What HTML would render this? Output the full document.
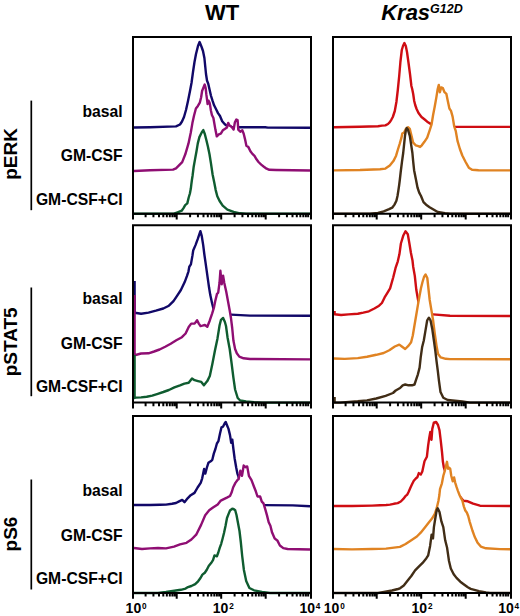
<!DOCTYPE html>
<html><head><meta charset="utf-8"><style>
html,body{margin:0;padding:0;background:#fff;}
body{width:520px;height:616px;overflow:hidden;}
svg{display:block;}
text{font-family:"Liberation Sans",sans-serif;fill:#000;}
.b{font-weight:bold;}
.bi{font-weight:bold;font-style:italic;}
.lab{font-size:15.7px;}
</style></head><body>
<svg width="520" height="616" viewBox="0 0 520 616">
<rect x="0" y="0" width="520" height="616" fill="#fff"/>
<polygon points="134,127.5 150,127.2 176,126.4 180,124.5 182,121.5 184,117 186,110 188,101 190,91 191.5,83 193,72 194.5,62 196,54 198,46 199.6,42 201.6,47 203,51 204.4,58 205.3,67 206,74 207,80.5 208.3,84 209.6,89.7 210.9,95.5 212.5,100.7 214.1,105.3 216.1,109.2 218,113.1 220,116 222.2,121.2 224.8,124.3 227.5,126.3 232,127 239.6,127.2 265.2,127.2 267.9,127.6 310,127.8 310,128.9 134,128.9" fill="#fff" stroke="none"/>
<polyline points="134,127.5 150,127.2 176,126.4 180,124.5 182,121.5 184,117 186,110 188,101 190,91 191.5,83 193,72 194.5,62 196,54 198,46 199.6,42 201.6,47 203,51 204.4,58 205.3,67 206,74 207,80.5 208.3,84 209.6,89.7 210.9,95.5 212.5,100.7 214.1,105.3 216.1,109.2 218,113.1 220,116 222.2,121.2 224.8,124.3 227.5,126.3 232,127 239.6,127.2 265.2,127.2 267.9,127.6 310,127.8" fill="none" stroke="#110868" stroke-width="2.4" stroke-linejoin="round" stroke-linecap="butt"/>
<polygon points="134,171 150,170.2 173,169.6 176,168.3 182.2,162.1 185.3,154.3 188.5,143.4 190.8,132.5 192.4,123.1 194,115.7 195.9,108.5 197.9,105.9 199.8,102.7 201.1,97.5 202.1,91 203.1,88.4 204.7,84.5 205.7,88.4 206.3,94.2 207,99.4 207.6,104 208.6,100.7 209.6,102.7 210.2,105.9 210.9,110.5 211.9,115 213.4,118 215.4,129.6 216.8,136.4 218.8,134.4 220.8,133.7 222.8,130.3 224.8,129 226.9,127.6 228.2,122.9 229.6,125.6 230.9,126.3 232.2,127.6 233.6,129.6 234.9,122.2 236.3,119.6 237.6,120.2 238.3,129.6 240.3,131.7 242.3,130.3 243.7,133.7 245,139.1 246.4,145.8 248.4,147.1 250.4,151.2 252.4,153.9 254.5,155.9 256.5,159.3 258.5,162 261.2,164.6 263.9,166.7 266.6,168.7 269.3,169.8 276,170 310,170.5 310,171.6 134,171.6" fill="#fff" stroke="none"/>
<polyline points="134,171 150,170.2 173,169.6 176,168.3 182.2,162.1 185.3,154.3 188.5,143.4 190.8,132.5 192.4,123.1 194,115.7 195.9,108.5 197.9,105.9 199.8,102.7 201.1,97.5 202.1,91 203.1,88.4 204.7,84.5 205.7,88.4 206.3,94.2 207,99.4 207.6,104 208.6,100.7 209.6,102.7 210.2,105.9 210.9,110.5 211.9,115 213.4,118 215.4,129.6 216.8,136.4 218.8,134.4 220.8,133.7 222.8,130.3 224.8,129 226.9,127.6 228.2,122.9 229.6,125.6 230.9,126.3 232.2,127.6 233.6,129.6 234.9,122.2 236.3,119.6 237.6,120.2 238.3,129.6 240.3,131.7 242.3,130.3 243.7,133.7 245,139.1 246.4,145.8 248.4,147.1 250.4,151.2 252.4,153.9 254.5,155.9 256.5,159.3 258.5,162 261.2,164.6 263.9,166.7 266.6,168.7 269.3,169.8 276,170 310,170.5" fill="none" stroke="#8f0e73" stroke-width="2.4" stroke-linejoin="round" stroke-linecap="butt"/>
<polygon points="134,213.7 174,213.7 177.6,212.3 181.7,210.7 183.5,208.1 185.2,205.1 187.3,203.4 188.7,197.5 189.9,193.5 190.8,188.8 191.3,184.7 191.9,180 192.6,175.5 193.7,166.7 195.1,158.9 196.5,151.2 197.8,143.4 199.4,137.1 201.7,132.5 203.3,130.1 204.8,134 206.4,140.2 207.9,146.5 209.5,154.3 211,163.6 212.6,174.5 214.2,182.3 215.7,190.1 217.3,196.3 219.6,201 222.7,205.7 227.4,209.6 233.6,211.9 240,213.3 246,213.7 310,213.7 310,214.9 134,214.9" fill="#fff" stroke="none"/>
<polyline points="134,213.7 174,213.7 177.6,212.3 181.7,210.7 183.5,208.1 185.2,205.1 187.3,203.4 188.7,197.5 189.9,193.5 190.8,188.8 191.3,184.7 191.9,180 192.6,175.5 193.7,166.7 195.1,158.9 196.5,151.2 197.8,143.4 199.4,137.1 201.7,132.5 203.3,130.1 204.8,134 206.4,140.2 207.9,146.5 209.5,154.3 211,163.6 212.6,174.5 214.2,182.3 215.7,190.1 217.3,196.3 219.6,201 222.7,205.7 227.4,209.6 233.6,211.9 240,213.3 246,213.7 310,213.7" fill="none" stroke="#0f5c30" stroke-width="2.4" stroke-linejoin="round" stroke-linecap="butt"/>
<polygon points="334,127.2 360,126.8 378,126.2 382,125.6 385.4,125.4 388,124 389.8,122.2 391.3,119.8 392.8,117 394.8,111 396.4,102 397.8,90 399.2,76 400.4,62 401.8,50 403,46 404.4,43 405.8,46 407,52 408.4,62 410,74 411.4,86 412.2,89 413.2,94 414.2,101 415.2,105 416.6,109 418.5,113 421.5,117 425,119.8 428,122.3 430.7,123.9 436,126.5 455,126.9 510,126.9 510,128.1 334,128.1" fill="#fff" stroke="none"/>
<polyline points="334,127.2 360,126.8 378,126.2 382,125.6 385.4,125.4 388,124 389.8,122.2 391.3,119.8 392.8,117 394.8,111 396.4,102 397.8,90 399.2,76 400.4,62 401.8,50 403,46 404.4,43 405.8,46 407,52 408.4,62 410,74 411.4,86 412.2,89 413.2,94 414.2,101 415.2,105 416.6,109 418.5,113 421.5,117 425,119.8 428,122.3 430.7,123.9 436,126.5 455,126.9 510,126.9" fill="none" stroke="#cf0d13" stroke-width="2.4" stroke-linejoin="round" stroke-linecap="butt"/>
<polygon points="334,170.4 360,170 380,169.2 385.4,168.6 389.8,165.5 393.4,161.1 396.1,155.7 397.9,149.5 399.6,144.1 401.4,137.9 402.3,133.6 404.1,132.5 405.9,128.9 408,127.2 409.8,128.9 411.5,135.8 413.2,142.7 415.8,145.3 418.4,146.1 420.1,147 421.8,145.3 424.4,141.8 427.2,137.6 429.9,129.6 431.5,124.7 433.1,115 434.7,106.8 436.4,97.1 437.7,89 438.8,84.9 439.9,92.2 441.2,87.4 442.9,88.2 444.5,92.2 446.4,93.9 447.7,100.4 449.4,108.5 451,110.9 452.6,116.6 454.2,126.3 455.8,131.2 457.5,140.9 459.9,149 462.3,155.5 465.6,162 468.8,167.7 472.1,169.8 478.6,170.2 510,170.4 510,171.6 334,171.6" fill="#fff" stroke="none"/>
<polyline points="334,170.4 360,170 380,169.2 385.4,168.6 389.8,165.5 393.4,161.1 396.1,155.7 397.9,149.5 399.6,144.1 401.4,137.9 402.3,133.6 404.1,132.5 405.9,128.9 408,127.2 409.8,128.9 411.5,135.8 413.2,142.7 415.8,145.3 418.4,146.1 420.1,147 421.8,145.3 424.4,141.8 427.2,137.6 429.9,129.6 431.5,124.7 433.1,115 434.7,106.8 436.4,97.1 437.7,89 438.8,84.9 439.9,92.2 441.2,87.4 442.9,88.2 444.5,92.2 446.4,93.9 447.7,100.4 449.4,108.5 451,110.9 452.6,116.6 454.2,126.3 455.8,131.2 457.5,140.9 459.9,149 462.3,155.5 465.6,162 468.8,167.7 472.1,169.8 478.6,170.2 510,170.4" fill="none" stroke="#e08322" stroke-width="2.4" stroke-linejoin="round" stroke-linecap="butt"/>
<polygon points="334,213.7 370,213.7 378,213 383.7,211.3 389.1,209.2 392.2,207.7 394.5,204.6 396.4,200.8 397.5,196 398.3,191 399.1,185.5 399.8,180 400.7,172 402,161.6 403.2,153 404.1,144.4 405,135.8 405.8,130.7 406.7,128.1 408,129.8 409.8,135.8 411.1,144.4 412.4,153 413.2,161.6 414.1,170.2 415.8,178.8 417.5,187.5 419.2,192.6 421,196 423.5,202.1 426.1,204.7 429.6,207.2 433.9,209.8 437.7,212 445,213.3 450,213.7 510,213.7 510,214.9 334,214.9" fill="#fff" stroke="none"/>
<polyline points="334,213.7 370,213.7 378,213 383.7,211.3 389.1,209.2 392.2,207.7 394.5,204.6 396.4,200.8 397.5,196 398.3,191 399.1,185.5 399.8,180 400.7,172 402,161.6 403.2,153 404.1,144.4 405,135.8 405.8,130.7 406.7,128.1 408,129.8 409.8,135.8 411.1,144.4 412.4,153 413.2,161.6 414.1,170.2 415.8,178.8 417.5,187.5 419.2,192.6 421,196 423.5,202.1 426.1,204.7 429.6,207.2 433.9,209.8 437.7,212 445,213.3 450,213.7 510,213.7" fill="none" stroke="#412d16" stroke-width="2.4" stroke-linejoin="round" stroke-linecap="butt"/>
<polygon points="134.6,281 134.6,312.8 138,313.3 141.1,313.7 148.5,312.6 155.9,310.7 163.3,308.5 168.9,305.7 173.5,301.1 177.2,295.6 180.9,290 184.7,282.1 187,275.9 188.5,271.3 189.3,266.7 190.9,264.4 192.4,255.9 193.2,250.5 195.5,245.1 197.8,238.9 200.4,231.2 201.7,235.8 203.2,245.1 204.3,254 205.5,262.3 206.7,270.8 207.9,279.3 209.1,287.8 210.3,295.1 212.2,303.7 213.4,308.5 215,312.5 218,314.5 231,314.6 250,315.6 310,315.8 310,316.9 134.6,316.9" fill="#fff" stroke="none"/>
<polyline points="134.6,281 134.6,312.8 138,313.3 141.1,313.7 148.5,312.6 155.9,310.7 163.3,308.5 168.9,305.7 173.5,301.1 177.2,295.6 180.9,290 184.7,282.1 187,275.9 188.5,271.3 189.3,266.7 190.9,264.4 192.4,255.9 193.2,250.5 195.5,245.1 197.8,238.9 200.4,231.2 201.7,235.8 203.2,245.1 204.3,254 205.5,262.3 206.7,270.8 207.9,279.3 209.1,287.8 210.3,295.1 212.2,303.7 213.4,308.5 215,312.5 218,314.5 231,314.6 250,315.6 310,315.8" fill="none" stroke="#110868" stroke-width="2.4" stroke-linejoin="round" stroke-linecap="butt"/>
<polygon points="134.6,295 134.6,355 135.6,355 141.1,353.5 148.5,353.3 154.1,351.5 159.6,349.5 165.2,346.7 170.7,343.7 176.3,340.3 181.9,337.2 185.6,333.5 188.7,327 191.2,323.6 194.6,323.6 197.1,320.3 198.8,323.6 200.5,326 202.4,325.6 204.9,325 207.3,326.8 209.7,320.7 212.2,313.4 214,307.3 215.2,301.2 217,293.9 218.2,292.7 219.5,283 220.4,270.8 221.7,284.2 223.1,275.7 224.3,283 226.2,291.5 228,301.2 229.8,311 231,318.3 232.2,328 233.4,340.5 235.1,349 236.8,353.2 239.3,356.6 243.6,358.3 250,359 310,359.4 310,360.6 134.6,360.6" fill="#fff" stroke="none"/>
<polyline points="134.6,295 134.6,355 135.6,355 141.1,353.5 148.5,353.3 154.1,351.5 159.6,349.5 165.2,346.7 170.7,343.7 176.3,340.3 181.9,337.2 185.6,333.5 188.7,327 191.2,323.6 194.6,323.6 197.1,320.3 198.8,323.6 200.5,326 202.4,325.6 204.9,325 207.3,326.8 209.7,320.7 212.2,313.4 214,307.3 215.2,301.2 217,293.9 218.2,292.7 219.5,283 220.4,270.8 221.7,284.2 223.1,275.7 224.3,283 226.2,291.5 228,301.2 229.8,311 231,318.3 232.2,328 233.4,340.5 235.1,349 236.8,353.2 239.3,356.6 243.6,358.3 250,359 310,359.4" fill="none" stroke="#8f0e73" stroke-width="2.4" stroke-linejoin="round" stroke-linecap="butt"/>
<polygon points="134.6,355 134.6,398 135.6,397.6 141.1,397.4 146.7,396.7 152.2,395.6 157.8,393.8 163.3,392 168.9,390 174.4,387.4 180,385.4 184.4,383.6 188.7,382.8 192,378.5 194.6,380.2 198,381.1 201.3,381.9 203.9,385.3 207.3,381.1 209.8,376 212.3,364.2 214.9,350.7 217.4,338.9 219.6,325.3 221,319.8 223.1,317.9 224.9,322 226,326 227.5,337.2 229.7,349 231.7,364.2 233.4,377.7 235.1,389.5 237.7,398 240.2,400.5 246.1,401.4 254,402.3 262,402.6 310,402.6 310,403.8 134.6,403.8" fill="#fff" stroke="none"/>
<polyline points="134.6,355 134.6,398 135.6,397.6 141.1,397.4 146.7,396.7 152.2,395.6 157.8,393.8 163.3,392 168.9,390 174.4,387.4 180,385.4 184.4,383.6 188.7,382.8 192,378.5 194.6,380.2 198,381.1 201.3,381.9 203.9,385.3 207.3,381.1 209.8,376 212.3,364.2 214.9,350.7 217.4,338.9 219.6,325.3 221,319.8 223.1,317.9 224.9,322 226,326 227.5,337.2 229.7,349 231.7,364.2 233.4,377.7 235.1,389.5 237.7,398 240.2,400.5 246.1,401.4 254,402.3 262,402.6 310,402.6" fill="none" stroke="#0f5c30" stroke-width="2.4" stroke-linejoin="round" stroke-linecap="butt"/>
<polygon points="334.6,311 334.6,314.3 341.1,315 348.5,314.4 357.8,313.7 363.3,312.6 368.9,311.3 374.4,308.5 379.1,305.7 381.9,303 384.6,297.4 387.4,292.8 390.1,288.3 393.2,277.5 395.5,268.2 397.8,261.3 399.4,254.3 400.9,243.5 403.2,235.8 405.5,231.2 407.8,234.3 409.4,243.5 410.9,252.8 412.5,260.5 413.2,266.7 414.8,275.9 416.3,289.8 417.9,299.1 419.4,305.2 421,311 424,314 433,314.4 450,315.8 510,316 510,317.1 334.6,317.1" fill="#fff" stroke="none"/>
<polyline points="334.6,311 334.6,314.3 341.1,315 348.5,314.4 357.8,313.7 363.3,312.6 368.9,311.3 374.4,308.5 379.1,305.7 381.9,303 384.6,297.4 387.4,292.8 390.1,288.3 393.2,277.5 395.5,268.2 397.8,261.3 399.4,254.3 400.9,243.5 403.2,235.8 405.5,231.2 407.8,234.3 409.4,243.5 410.9,252.8 412.5,260.5 413.2,266.7 414.8,275.9 416.3,289.8 417.9,299.1 419.4,305.2 421,311 424,314 433,314.4 450,315.8 510,316" fill="none" stroke="#cf0d13" stroke-width="2.4" stroke-linejoin="round" stroke-linecap="butt"/>
<polygon points="334,358.5 344.8,358.9 357.8,358.1 367,356.7 376.3,354.8 383.7,353 389.3,350.2 394.8,346.5 399.3,344.6 401.8,346.5 405.2,349 408.6,345.6 411.1,342.2 412.8,335.5 414.5,325.3 416.2,315.2 417.9,305.1 419.5,296 421,288 422.5,282 424,277 425.6,274.5 427.3,278 428.6,290 429.7,300 431.4,310.1 433.1,320.3 434.8,333.8 436.5,345.6 438.1,354.1 440.7,357.4 445.7,358.8 450,359.1 510,359.2 510,360.3 334,360.3" fill="#fff" stroke="none"/>
<polyline points="334,358.5 344.8,358.9 357.8,358.1 367,356.7 376.3,354.8 383.7,353 389.3,350.2 394.8,346.5 399.3,344.6 401.8,346.5 405.2,349 408.6,345.6 411.1,342.2 412.8,335.5 414.5,325.3 416.2,315.2 417.9,305.1 419.5,296 421,288 422.5,282 424,277 425.6,274.5 427.3,278 428.6,290 429.7,300 431.4,310.1 433.1,320.3 434.8,333.8 436.5,345.6 438.1,354.1 440.7,357.4 445.7,358.8 450,359.1 510,359.2" fill="none" stroke="#e08322" stroke-width="2.4" stroke-linejoin="round" stroke-linecap="butt"/>
<polygon points="334.6,397 334.6,402.6 340,402.6 357.8,401.3 367,400.4 376.3,398.5 385.6,395.8 393,393 395.7,390.5 400.1,388 402.7,385.3 405.2,384.5 408.6,385.3 412,385.3 414.5,384.5 416.2,379.4 417.9,374.3 419.6,367.6 420.7,357.4 422.1,347.3 423.8,340.5 425.5,330.4 427.2,320.3 428.9,317.7 430.5,320.3 432.2,328.7 433.9,340.5 435.3,350.7 436.5,360.8 437.8,370.9 439,381.1 440.5,392 443.3,397.8 447.7,400 455,400.8 462.3,401.5 470,402.6 510,402.6 510,403.8 334.6,403.8" fill="#fff" stroke="none"/>
<polyline points="334.6,397 334.6,402.6 340,402.6 357.8,401.3 367,400.4 376.3,398.5 385.6,395.8 393,393 395.7,390.5 400.1,388 402.7,385.3 405.2,384.5 408.6,385.3 412,385.3 414.5,384.5 416.2,379.4 417.9,374.3 419.6,367.6 420.7,357.4 422.1,347.3 423.8,340.5 425.5,330.4 427.2,320.3 428.9,317.7 430.5,320.3 432.2,328.7 433.9,340.5 435.3,350.7 436.5,360.8 437.8,370.9 439,381.1 440.5,392 443.3,397.8 447.7,400 455,400.8 462.3,401.5 470,402.6 510,402.6" fill="none" stroke="#412d16" stroke-width="2.4" stroke-linejoin="round" stroke-linecap="butt"/>
<polygon points="134,505 150,505 160,504.8 166,504.6 172,503.8 176,503 179.1,501.4 182.2,499.9 184.5,502.2 187.6,498.3 190.7,495.2 194.5,492.9 197.6,487.5 200.7,482.9 202.2,478.3 204.1,469 205.3,473.6 206.9,467.5 208.4,462.8 210.7,461.3 212.3,459.8 213.8,453.6 215.4,449 216.9,443.5 218.4,441.2 220,433.5 221.5,427.3 223.1,426.6 224.6,423.5 225.7,421.9 226.9,425 228.5,428.9 230,435.1 231.2,442.8 232.3,439.7 233.4,449 234.6,458.2 236.2,467.5 237.4,473.6 238.5,476.7 240,484 242,493 244,500 247,504 252,505.2 264.4,505.1 292.8,505.4 310,506.2 310,507.1 134,507.1" fill="#fff" stroke="none"/>
<polyline points="134,505 150,505 160,504.8 166,504.6 172,503.8 176,503 179.1,501.4 182.2,499.9 184.5,502.2 187.6,498.3 190.7,495.2 194.5,492.9 197.6,487.5 200.7,482.9 202.2,478.3 204.1,469 205.3,473.6 206.9,467.5 208.4,462.8 210.7,461.3 212.3,459.8 213.8,453.6 215.4,449 216.9,443.5 218.4,441.2 220,433.5 221.5,427.3 223.1,426.6 224.6,423.5 225.7,421.9 226.9,425 228.5,428.9 230,435.1 231.2,442.8 232.3,439.7 233.4,449 234.6,458.2 236.2,467.5 237.4,473.6 238.5,476.7 240,484 242,493 244,500 247,504 252,505.2 264.4,505.1 292.8,505.4 310,506.2" fill="none" stroke="#110868" stroke-width="2.4" stroke-linejoin="round" stroke-linecap="butt"/>
<polygon points="134,548 142,549 150,548.4 158,548 166,548.4 174,546.6 180,544.4 186.5,542.8 191.4,539.5 196.2,534.7 201.1,524.9 205.2,515.2 209.2,510.3 213,507.6 217.7,504.5 220.8,500.6 223.8,499.1 226.9,497.6 230,496 231.8,492 233.1,487.5 235.4,482.9 237.7,479.8 238.6,479.3 240.3,470.7 242,475.8 243.7,465.5 245.5,467.2 247.2,466.4 248.9,475.8 251.5,480.1 254.1,487 255.8,491.3 257.5,496.5 260.1,496.5 261.8,501.6 263.5,503.4 265.3,509.4 267,515.4 268.7,522.3 270.4,525.7 272.1,532.6 274.7,538.6 277.3,540.4 279.9,545.5 283.3,548.1 287.6,549 310,549.5 310,550.6 134,550.6" fill="#fff" stroke="none"/>
<polyline points="134,548 142,549 150,548.4 158,548 166,548.4 174,546.6 180,544.4 186.5,542.8 191.4,539.5 196.2,534.7 201.1,524.9 205.2,515.2 209.2,510.3 213,507.6 217.7,504.5 220.8,500.6 223.8,499.1 226.9,497.6 230,496 231.8,492 233.1,487.5 235.4,482.9 237.7,479.8 238.6,479.3 240.3,470.7 242,475.8 243.7,465.5 245.5,467.2 247.2,466.4 248.9,475.8 251.5,480.1 254.1,487 255.8,491.3 257.5,496.5 260.1,496.5 261.8,501.6 263.5,503.4 265.3,509.4 267,515.4 268.7,522.3 270.4,525.7 272.1,532.6 274.7,538.6 277.3,540.4 279.9,545.5 283.3,548.1 287.6,549 310,549.5" fill="none" stroke="#8f0e73" stroke-width="2.4" stroke-linejoin="round" stroke-linecap="butt"/>
<polygon points="134,593 158,593 166,592 176,590.5 180.8,589.8 185.6,588.6 188,587.1 191.4,586 195.2,584.2 198.1,581.3 200.5,578 202.4,574.6 204.8,572.7 206.8,569.8 208.7,566 211.1,563.1 213,560.2 214.5,555.4 216.9,556.3 218.3,552.5 219.8,547.7 221.2,543.8 222.5,539 224,533 225.5,526 227,518 228.7,513.6 230,510.5 232,508.8 233.5,509 235.2,510.3 236.5,515 238,523 239.5,531 240.8,542 242.2,556 243.9,570 246.2,581 249.4,588 254,590.3 262,592 270,593 310,593 310,594.1 134,594.1" fill="#fff" stroke="none"/>
<polyline points="134,593 158,593 166,592 176,590.5 180.8,589.8 185.6,588.6 188,587.1 191.4,586 195.2,584.2 198.1,581.3 200.5,578 202.4,574.6 204.8,572.7 206.8,569.8 208.7,566 211.1,563.1 213,560.2 214.5,555.4 216.9,556.3 218.3,552.5 219.8,547.7 221.2,543.8 222.5,539 224,533 225.5,526 227,518 228.7,513.6 230,510.5 232,508.8 233.5,509 235.2,510.3 236.5,515 238,523 239.5,531 240.8,542 242.2,556 243.9,570 246.2,581 249.4,588 254,590.3 262,592 270,593 310,593" fill="none" stroke="#0f5c30" stroke-width="2.4" stroke-linejoin="round" stroke-linecap="butt"/>
<polygon points="334,506 352,506 372,505.6 380,505.3 386,505 390,504.6 393.8,503.8 397.7,503.1 400.8,501.5 403.1,499.2 405.4,496.2 407.3,494.6 408.8,491.5 410.4,487.7 411.9,484.6 413.8,480.8 415.8,478.5 417.3,477.3 418.8,473.1 420.8,474.6 422.3,471.5 424.5,461.3 426.9,456.7 428.1,445.9 429.2,438.1 430.3,432 431.5,439.7 432.3,428.9 433.8,422.7 436.1,421.9 438,425 439.5,430.4 440.8,441.2 442,452 442.9,461.8 443.9,467.7 445,471 447,476 452,484 458,494 463.4,500.8 467.8,501.3 473.1,503.7 480,505.7 510,506 510,507.1 334,507.1" fill="#fff" stroke="none"/>
<polyline points="334,506 352,506 372,505.6 380,505.3 386,505 390,504.6 393.8,503.8 397.7,503.1 400.8,501.5 403.1,499.2 405.4,496.2 407.3,494.6 408.8,491.5 410.4,487.7 411.9,484.6 413.8,480.8 415.8,478.5 417.3,477.3 418.8,473.1 420.8,474.6 422.3,471.5 424.5,461.3 426.9,456.7 428.1,445.9 429.2,438.1 430.3,432 431.5,439.7 432.3,428.9 433.8,422.7 436.1,421.9 438,425 439.5,430.4 440.8,441.2 442,452 442.9,461.8 443.9,467.7 445,471 447,476 452,484 458,494 463.4,500.8 467.8,501.3 473.1,503.7 480,505.7 510,506" fill="none" stroke="#cf0d13" stroke-width="2.4" stroke-linejoin="round" stroke-linecap="butt"/>
<polygon points="334,549 352,549.4 372,549 386,548.6 394,547.6 400,546.9 405.6,544 411.3,540.3 416.9,536.5 420.7,532.7 424.5,528 428.2,523.3 432,518.6 434.8,513.9 436.7,508.2 438.4,501 439.4,495 440,489.1 441.9,483.3 443.4,475.5 444.9,470.6 445.8,466.7 447,461.8 448,468.7 449.3,467.7 450.2,468.7 451.2,475.5 452.7,481.3 454.1,477.4 455.1,482.3 456.6,487.2 458,491.1 459.5,495 460.9,497.9 462.4,500.8 463.9,506.6 465.3,510.5 466.8,512.5 468.2,516 469.8,522.1 472.4,530.5 474.9,537.3 477.4,542.4 480.8,546.6 485.9,548.3 500,549.1 510,549.2 510,550.3 334,550.3" fill="#fff" stroke="none"/>
<polyline points="334,549 352,549.4 372,549 386,548.6 394,547.6 400,546.9 405.6,544 411.3,540.3 416.9,536.5 420.7,532.7 424.5,528 428.2,523.3 432,518.6 434.8,513.9 436.7,508.2 438.4,501 439.4,495 440,489.1 441.9,483.3 443.4,475.5 444.9,470.6 445.8,466.7 447,461.8 448,468.7 449.3,467.7 450.2,468.7 451.2,475.5 452.7,481.3 454.1,477.4 455.1,482.3 456.6,487.2 458,491.1 459.5,495 460.9,497.9 462.4,500.8 463.9,506.6 465.3,510.5 466.8,512.5 468.2,516 469.8,522.1 472.4,530.5 474.9,537.3 477.4,542.4 480.8,546.6 485.9,548.3 500,549.1 510,549.2" fill="none" stroke="#e08322" stroke-width="2.4" stroke-linejoin="round" stroke-linecap="butt"/>
<polygon points="334,593 378,593 384,592 392,590.5 398,589 400,588.3 403.8,585.5 407.5,580.8 411.3,576 415.1,570.4 418.8,566.6 422.6,562.9 426.4,558.2 428.2,555.3 430.1,545.9 431.6,534.6 433,538.4 433.9,527.1 435.4,517.7 436.7,510.1 437.7,508.2 439.5,512 441.4,521.4 443.3,527.1 445.2,540.3 447.1,547.8 449,561 450.8,568.5 453.7,574.2 456.5,577.9 460.3,581.7 464,584.5 467.8,587.3 470.7,588.9 479,591.2 486,592.5 490,593 510,593 510,594.1 334,594.1" fill="#fff" stroke="none"/>
<polyline points="334,593 378,593 384,592 392,590.5 398,589 400,588.3 403.8,585.5 407.5,580.8 411.3,576 415.1,570.4 418.8,566.6 422.6,562.9 426.4,558.2 428.2,555.3 430.1,545.9 431.6,534.6 433,538.4 433.9,527.1 435.4,517.7 436.7,510.1 437.7,508.2 439.5,512 441.4,521.4 443.3,527.1 445.2,540.3 447.1,547.8 449,561 450.8,568.5 453.7,574.2 456.5,577.9 460.3,581.7 464,584.5 467.8,587.3 470.7,588.9 479,591.2 486,592.5 490,593 510,593" fill="none" stroke="#412d16" stroke-width="2.4" stroke-linejoin="round" stroke-linecap="butt"/>
<path d="M133 219.5 V37 H311 V219.5" fill="none" stroke="#000" stroke-width="2" stroke-linejoin="miter"/>
<line x1="132" y1="213.7" x2="312" y2="213.7" stroke="#000" stroke-width="2"/>
<path d="M145.6 213.7 V217.3 M153.43 213.7 V217.3 M158.99 213.7 V217.3 M163.3 213.7 V217.3 M166.83 213.7 V217.3 M169.81 213.7 V217.3 M172.39 213.7 V217.3 M174.66 213.7 V217.3 M176.7 213.7 V219.5 M190.1 213.7 V217.3 M197.93 213.7 V217.3 M203.49 213.7 V217.3 M207.8 213.7 V217.3 M211.33 213.7 V217.3 M214.31 213.7 V217.3 M216.89 213.7 V217.3 M219.16 213.7 V217.3 M221.2 213.7 V219.5 M234.6 213.7 V217.3 M242.43 213.7 V217.3 M247.99 213.7 V217.3 M252.3 213.7 V217.3 M255.83 213.7 V217.3 M258.81 213.7 V217.3 M261.39 213.7 V217.3 M263.66 213.7 V217.3 M265.7 213.7 V219.5 M279.1 213.7 V217.3 M286.93 213.7 V217.3 M292.49 213.7 V217.3 M296.8 213.7 V217.3 M300.33 213.7 V217.3 M303.31 213.7 V217.3 M305.89 213.7 V217.3 M308.16 213.7 V217.3" stroke="#000" stroke-width="2" fill="none"/>
<path d="M333 219.5 V37 H511 V219.5" fill="none" stroke="#000" stroke-width="2" stroke-linejoin="miter"/>
<line x1="332" y1="213.7" x2="512" y2="213.7" stroke="#000" stroke-width="2"/>
<path d="M345.6 213.7 V217.3 M353.43 213.7 V217.3 M358.99 213.7 V217.3 M363.3 213.7 V217.3 M366.83 213.7 V217.3 M369.81 213.7 V217.3 M372.39 213.7 V217.3 M374.66 213.7 V217.3 M376.7 213.7 V219.5 M390.1 213.7 V217.3 M397.93 213.7 V217.3 M403.49 213.7 V217.3 M407.8 213.7 V217.3 M411.33 213.7 V217.3 M414.31 213.7 V217.3 M416.89 213.7 V217.3 M419.16 213.7 V217.3 M421.2 213.7 V219.5 M434.6 213.7 V217.3 M442.43 213.7 V217.3 M447.99 213.7 V217.3 M452.3 213.7 V217.3 M455.83 213.7 V217.3 M458.81 213.7 V217.3 M461.39 213.7 V217.3 M463.66 213.7 V217.3 M465.7 213.7 V219.5 M479.1 213.7 V217.3 M486.93 213.7 V217.3 M492.49 213.7 V217.3 M496.8 213.7 V217.3 M500.33 213.7 V217.3 M503.31 213.7 V217.3 M505.89 213.7 V217.3 M508.16 213.7 V217.3" stroke="#000" stroke-width="2" fill="none"/>
<path d="M133 408.4 V225.3 H311 V408.4" fill="none" stroke="#000" stroke-width="2" stroke-linejoin="miter"/>
<line x1="132" y1="402.6" x2="312" y2="402.6" stroke="#000" stroke-width="2"/>
<path d="M145.6 402.6 V406.2 M153.43 402.6 V406.2 M158.99 402.6 V406.2 M163.3 402.6 V406.2 M166.83 402.6 V406.2 M169.81 402.6 V406.2 M172.39 402.6 V406.2 M174.66 402.6 V406.2 M176.7 402.6 V408.4 M190.1 402.6 V406.2 M197.93 402.6 V406.2 M203.49 402.6 V406.2 M207.8 402.6 V406.2 M211.33 402.6 V406.2 M214.31 402.6 V406.2 M216.89 402.6 V406.2 M219.16 402.6 V406.2 M221.2 402.6 V408.4 M234.6 402.6 V406.2 M242.43 402.6 V406.2 M247.99 402.6 V406.2 M252.3 402.6 V406.2 M255.83 402.6 V406.2 M258.81 402.6 V406.2 M261.39 402.6 V406.2 M263.66 402.6 V406.2 M265.7 402.6 V408.4 M279.1 402.6 V406.2 M286.93 402.6 V406.2 M292.49 402.6 V406.2 M296.8 402.6 V406.2 M300.33 402.6 V406.2 M303.31 402.6 V406.2 M305.89 402.6 V406.2 M308.16 402.6 V406.2" stroke="#000" stroke-width="2" fill="none"/>
<path d="M333 408.4 V225.3 H511 V408.4" fill="none" stroke="#000" stroke-width="2" stroke-linejoin="miter"/>
<line x1="332" y1="402.6" x2="512" y2="402.6" stroke="#000" stroke-width="2"/>
<path d="M345.6 402.6 V406.2 M353.43 402.6 V406.2 M358.99 402.6 V406.2 M363.3 402.6 V406.2 M366.83 402.6 V406.2 M369.81 402.6 V406.2 M372.39 402.6 V406.2 M374.66 402.6 V406.2 M376.7 402.6 V408.4 M390.1 402.6 V406.2 M397.93 402.6 V406.2 M403.49 402.6 V406.2 M407.8 402.6 V406.2 M411.33 402.6 V406.2 M414.31 402.6 V406.2 M416.89 402.6 V406.2 M419.16 402.6 V406.2 M421.2 402.6 V408.4 M434.6 402.6 V406.2 M442.43 402.6 V406.2 M447.99 402.6 V406.2 M452.3 402.6 V406.2 M455.83 402.6 V406.2 M458.81 402.6 V406.2 M461.39 402.6 V406.2 M463.66 402.6 V406.2 M465.7 402.6 V408.4 M479.1 402.6 V406.2 M486.93 402.6 V406.2 M492.49 402.6 V406.2 M496.8 402.6 V406.2 M500.33 402.6 V406.2 M503.31 402.6 V406.2 M505.89 402.6 V406.2 M508.16 402.6 V406.2" stroke="#000" stroke-width="2" fill="none"/>
<path d="M133 598.8 V416 H311 V598.8" fill="none" stroke="#000" stroke-width="2" stroke-linejoin="miter"/>
<line x1="132" y1="593" x2="312" y2="593" stroke="#000" stroke-width="2"/>
<path d="M145.6 593 V596.6 M153.43 593 V596.6 M158.99 593 V596.6 M163.3 593 V596.6 M166.83 593 V596.6 M169.81 593 V596.6 M172.39 593 V596.6 M174.66 593 V596.6 M176.7 593 V598.8 M190.1 593 V596.6 M197.93 593 V596.6 M203.49 593 V596.6 M207.8 593 V596.6 M211.33 593 V596.6 M214.31 593 V596.6 M216.89 593 V596.6 M219.16 593 V596.6 M221.2 593 V598.8 M234.6 593 V596.6 M242.43 593 V596.6 M247.99 593 V596.6 M252.3 593 V596.6 M255.83 593 V596.6 M258.81 593 V596.6 M261.39 593 V596.6 M263.66 593 V596.6 M265.7 593 V598.8 M279.1 593 V596.6 M286.93 593 V596.6 M292.49 593 V596.6 M296.8 593 V596.6 M300.33 593 V596.6 M303.31 593 V596.6 M305.89 593 V596.6 M308.16 593 V596.6" stroke="#000" stroke-width="2" fill="none"/>
<path d="M333 598.8 V416 H511 V598.8" fill="none" stroke="#000" stroke-width="2" stroke-linejoin="miter"/>
<line x1="332" y1="593" x2="512" y2="593" stroke="#000" stroke-width="2"/>
<path d="M345.6 593 V596.6 M353.43 593 V596.6 M358.99 593 V596.6 M363.3 593 V596.6 M366.83 593 V596.6 M369.81 593 V596.6 M372.39 593 V596.6 M374.66 593 V596.6 M376.7 593 V598.8 M390.1 593 V596.6 M397.93 593 V596.6 M403.49 593 V596.6 M407.8 593 V596.6 M411.33 593 V596.6 M414.31 593 V596.6 M416.89 593 V596.6 M419.16 593 V596.6 M421.2 593 V598.8 M434.6 593 V596.6 M442.43 593 V596.6 M447.99 593 V596.6 M452.3 593 V596.6 M455.83 593 V596.6 M458.81 593 V596.6 M461.39 593 V596.6 M463.66 593 V596.6 M465.7 593 V598.8 M479.1 593 V596.6 M486.93 593 V596.6 M492.49 593 V596.6 M496.8 593 V596.6 M500.33 593 V596.6 M503.31 593 V596.6 M505.89 593 V596.6 M508.16 593 V596.6" stroke="#000" stroke-width="2" fill="none"/>

<text x="222" y="20" text-anchor="middle" class="b" font-size="22">WT</text>
<text x="381.2" y="19.6" class="bi" font-size="22">Kras<tspan font-size="12.5" dy="-6.6">G12D</tspan></text>

<text transform="translate(122.6 116.6) scale(1 1)" text-anchor="end" class="b lab">basal</text>
<text transform="translate(122.6 161) scale(1 1)" text-anchor="end" class="b lab">GM-CSF</text>
<text transform="translate(122.6 204.8) scale(1 1)" text-anchor="end" class="b lab">GM-CSF+CI</text>
<line x1="31.3" y1="100.6" x2="31.3" y2="210.2" stroke="#000" stroke-width="1.7"/>
<text transform="translate(17.1 154) rotate(-90)" text-anchor="middle" class="b" font-size="19">pERK</text>
<text transform="translate(122.6 303.75) scale(1 1)" text-anchor="end" class="b lab">basal</text>
<text transform="translate(122.6 348.6) scale(1 1)" text-anchor="end" class="b lab">GM-CSF</text>
<text transform="translate(122.6 392) scale(1 1)" text-anchor="end" class="b lab">GM-CSF+CI</text>
<line x1="31.3" y1="287.5" x2="31.3" y2="396.2" stroke="#000" stroke-width="1.7"/>
<text transform="translate(17.1 341.8) rotate(-90)" text-anchor="middle" class="b" font-size="19">pSTAT5</text>
<text transform="translate(122.6 496) scale(1 1)" text-anchor="end" class="b lab">basal</text>
<text transform="translate(122.6 540.6) scale(1 1)" text-anchor="end" class="b lab">GM-CSF</text>
<text transform="translate(122.6 584.4) scale(1 1)" text-anchor="end" class="b lab">GM-CSF+CI</text>
<line x1="31.3" y1="479.5" x2="31.3" y2="589.5" stroke="#000" stroke-width="1.7"/>
<text transform="translate(17.1 534) rotate(-90)" text-anchor="middle" class="b" font-size="19">pS6</text>
<text x="125.6" y="613.4" class="b" font-size="14">10<tspan font-size="8.2" dx="0.8" dy="-4.5">0</tspan></text>
<text x="212.8" y="613.4" class="b" font-size="14">10<tspan font-size="8.2" dx="0.8" dy="-4.5">2</tspan></text>
<text x="299.4" y="613.4" class="b" font-size="14">10<tspan font-size="8.2" dx="0.8" dy="-4.5">4</tspan></text>
<text x="323.8" y="613.4" class="b" font-size="14">10<tspan font-size="8.2" dx="0.8" dy="-4.5">0</tspan></text>
<text x="411.5" y="613.4" class="b" font-size="14">10<tspan font-size="8.2" dx="0.8" dy="-4.5">2</tspan></text>
<text x="498.2" y="613.4" class="b" font-size="14">10<tspan font-size="8.2" dx="0.8" dy="-4.5">4</tspan></text>
</svg>
</body></html>
